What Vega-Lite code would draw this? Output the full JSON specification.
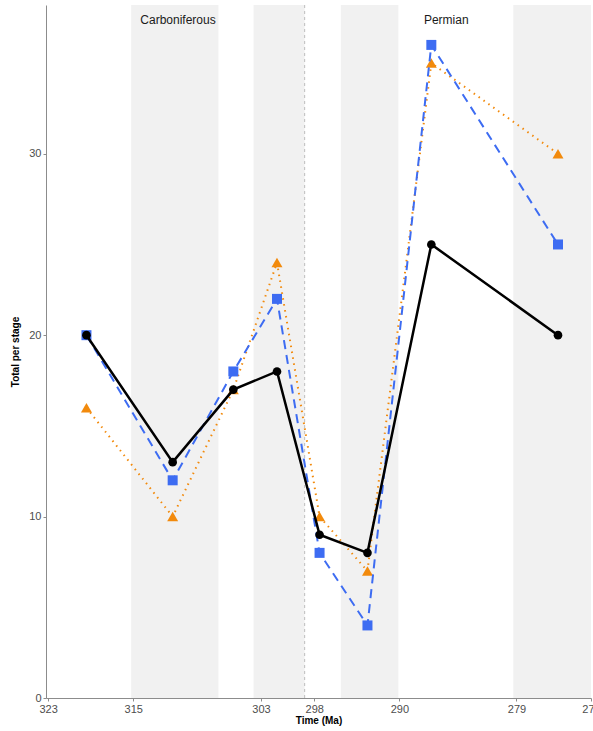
{
  "$schema": "https://vega.github.io/schema/vega-lite/v6.json",
  "width": 545,
  "height": 693,
  "autosize": "none",
  "padding": {"left": 46, "top": 5, "right": 2, "bottom": 33},
  "background": "white",
  "config": {
    "view": {"stroke": null},
    "font": "Liberation Sans",
    "axis": {
      "grid": false,
      "domainColor": "#8c8c8c",
      "tickColor": "#8c8c8c",
      "tickSize": 3,
      "labelColor": "#4d4d4d",
      "labelFontSize": 11,
      "labelPadding": 2,
      "labelFlush": false,
      "labelOverlap": false,
      "titleFontSize": 10,
      "titleFontWeight": "bold",
      "titleColor": "#000000"
    }
  },
  "datasets": {
    "stages": [
      {"stage": "Bashkirian", "start": 323.2, "end": 315.2, "shade": false},
      {"stage": "Moscovian", "start": 315.2, "end": 307.0, "shade": true},
      {"stage": "Kasimovian", "start": 307.0, "end": 303.7, "shade": false},
      {"stage": "Gzhelian", "start": 303.7, "end": 298.9, "shade": true},
      {"stage": "Asselian", "start": 298.9, "end": 295.5, "shade": false},
      {"stage": "Sakmarian", "start": 295.5, "end": 290.1, "shade": true},
      {"stage": "Artinskian", "start": 290.1, "end": 279.3, "shade": false},
      {"stage": "Kungurian", "start": 279.3, "end": 272.0, "shade": true}
    ],
    "series": [
      {"series": "A", "time": 319.4, "total": 20},
      {"series": "A", "time": 311.3, "total": 13},
      {"series": "A", "time": 305.6, "total": 17},
      {"series": "A", "time": 301.5, "total": 18},
      {"series": "A", "time": 297.5, "total": 9},
      {"series": "A", "time": 293.0, "total": 8},
      {"series": "A", "time": 287.0, "total": 25},
      {"series": "A", "time": 275.1, "total": 20},
      {"series": "B", "time": 319.4, "total": 20},
      {"series": "B", "time": 311.3, "total": 12},
      {"series": "B", "time": 305.6, "total": 18},
      {"series": "B", "time": 301.5, "total": 22},
      {"series": "B", "time": 297.5, "total": 8},
      {"series": "B", "time": 293.0, "total": 4},
      {"series": "B", "time": 287.0, "total": 36},
      {"series": "B", "time": 275.1, "total": 25},
      {"series": "C", "time": 319.4, "total": 16},
      {"series": "C", "time": 311.3, "total": 10},
      {"series": "C", "time": 305.6, "total": 17},
      {"series": "C", "time": 301.5, "total": 24},
      {"series": "C", "time": 297.5, "total": 10},
      {"series": "C", "time": 293.0, "total": 7},
      {"series": "C", "time": 287.0, "total": 35},
      {"series": "C", "time": 275.1, "total": 30}
    ],
    "periods": [
      {"period": "Carboniferous", "mid": 310.8},
      {"period": "Permian", "mid": 285.6}
    ],
    "boundary": [{"age": 298.9}]
  },
  "layer": [
    {
      "data": {"name": "stages"},
      "transform": [{"filter": "datum.shade"}],
      "mark": {"type": "rect", "color": "#f1f1f1"},
      "encoding": {
        "x": {
          "field": "start",
          "type": "quantitative",
          "scale": {"domain": [323.2, 272.0], "nice": false, "zero": false},
          "axis": {"title": "Time (Ma)", "values": [323, 315, 303, 298, 290, 279, 272], "titlePadding": 1}
        },
        "x2": {"field": "end"}
      }
    },
    {
      "data": {"name": "boundary"},
      "mark": {"type": "rule", "color": "#bdbdbd", "strokeDash": [3, 3], "strokeWidth": 1},
      "encoding": {"x": {"field": "age", "type": "quantitative"}}
    },
    {
      "data": {"name": "series"},
      "transform": [{"filter": "datum.series === 'C'"}],
      "mark": {
        "type": "line",
        "color": "#f28a0c",
        "strokeWidth": 2,
        "strokeDash": [1.5, 4.5],
        "point": {"shape": "triangle-up", "size": 120, "filled": true, "color": "#f28a0c", "opacity": 1}
      },
      "encoding": {
        "x": {"field": "time", "type": "quantitative"},
        "y": {
          "field": "total",
          "type": "quantitative",
          "scale": {"domain": [0, 38.2], "nice": false},
          "axis": {"title": "Total per stage", "values": [0, 10, 20, 30], "titlePadding": 8}
        }
      }
    },
    {
      "data": {"name": "series"},
      "transform": [{"filter": "datum.series === 'B'"}],
      "mark": {
        "type": "line",
        "color": "#3d6cf2",
        "strokeWidth": 2,
        "strokeDash": [9, 6],
        "point": {"shape": "square", "size": 100, "filled": true, "color": "#3d6cf2", "opacity": 1}
      },
      "encoding": {
        "x": {"field": "time", "type": "quantitative"},
        "y": {"field": "total", "type": "quantitative"}
      }
    },
    {
      "data": {"name": "series"},
      "transform": [{"filter": "datum.series === 'A'"}],
      "mark": {
        "type": "line",
        "color": "#000000",
        "strokeWidth": 2.5,
        "point": {"shape": "circle", "size": 75, "filled": true, "color": "#000000", "opacity": 1}
      },
      "encoding": {
        "x": {"field": "time", "type": "quantitative"},
        "y": {"field": "total", "type": "quantitative"}
      }
    },
    {
      "data": {"name": "periods"},
      "mark": {"type": "text", "fontSize": 12, "color": "#1a1a1a", "align": "center", "baseline": "middle"},
      "encoding": {
        "x": {"field": "mid", "type": "quantitative"},
        "y": {"datum": 37.4, "type": "quantitative"},
        "text": {"field": "period"}
      }
    }
  ]
}
